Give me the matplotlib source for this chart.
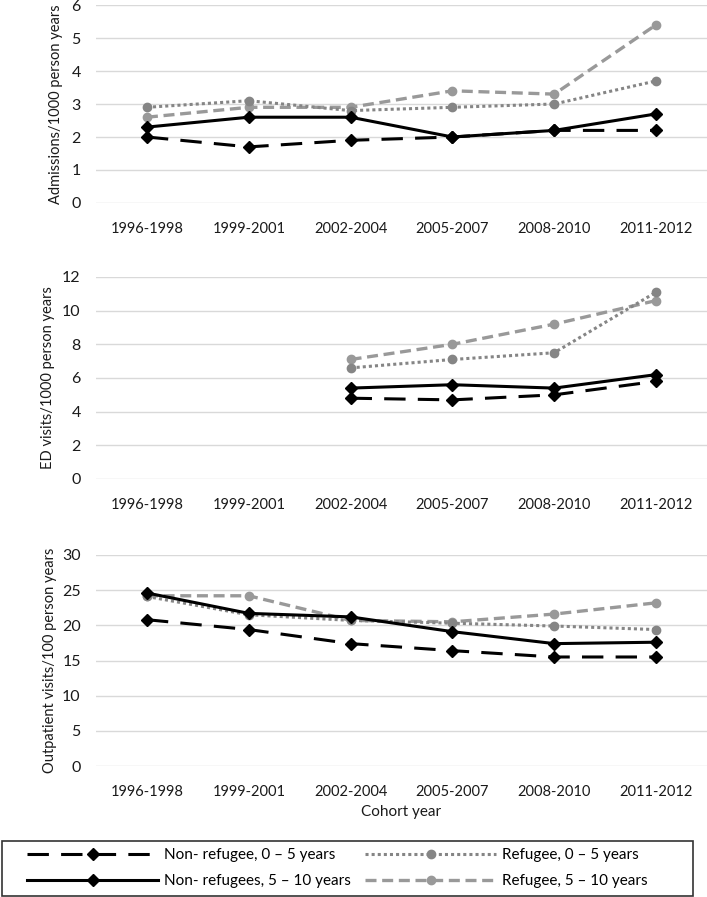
import numpy as np
import matplotlib
matplotlib.use('Agg')
import matplotlib.pyplot as plt
import matplotlib.patches as patches

plt.rcParams['font.family'] = ['Lato', 'DejaVu Sans']
plt.rcParams['font.size'] = 11

# cohort categories
cohorts = ['1996-1998', '1999-2001', '2002-2004', '2005-2007', '2008-2010', '2011-2012']

# Admissions / 1000 person years
adm_nr_0_5 = [2.0, 1.7, 1.9, 2.0, 2.2, 2.2]
adm_nr_5_10 = [2.3, 2.6, 2.6, 2.0, 2.2, 2.7]
adm_r_0_5 = [2.9, 3.1, 2.8, 2.9, 3.0, 3.7]
adm_r_5_10 = [2.6, 2.9, 2.9, 3.4, 3.3, 5.4]

# ED visits / 1000 person years (no data before 2002)
ed_nr_0_5 = [np.nan, np.nan, 4.8, 4.7, 5.0, 5.8]
ed_nr_5_10 = [np.nan, np.nan, 5.4, 5.6, 5.4, 6.2]
ed_r_0_5 = [np.nan, np.nan, 6.6, 7.1, 7.5, 11.1]
ed_r_5_10 = [np.nan, np.nan, 7.1, 8.0, 9.2, 10.6]

# Outpatient visits / 100 person years
op_nr_0_5 = [20.8, 19.4, 17.4, 16.4, 15.5, 15.5]
op_nr_5_10 = [24.6, 21.7, 21.2, 19.1, 17.4, 17.6]
op_r_0_5 = [24.1, 21.5, 20.7, 20.3, 19.9, 19.4]
op_r_5_10 = [24.2, 24.2, 20.7, 20.5, 21.6, 23.2]

labels = ['Non- refugee, 0 \u2013 5 years', 'Non- refugees, 5 \u2013 10 years',
          'Refugee, 0 \u2013 5 years', 'Refugee, 5 \u2013 10 years']

styles = [
    dict(color='black', lw=2.2, ls=(0, (7, 4)), marker='D', ms=6.5),
    dict(color='black', lw=2.2, ls='-', marker='D', ms=6.5),
    dict(color='#858585', lw=2.2, ls=(0, (1, 1)), marker='o', ms=6),
    dict(color='#999999', lw=2.4, ls=(0, (3.3, 1.7)), marker='o', ms=6),
]

# series, y label, ymax, step, axes rect, ylabel x (axes coords)
panels = [
    ([adm_nr_0_5, adm_nr_5_10, adm_r_0_5, adm_r_5_10], 'Admissions/1000 person years',
     6, 1, [0.1358, 0.7737, 0.8642, 0.2207], -0.054),
    ([ed_nr_0_5, ed_nr_5_10, ed_r_0_5, ed_r_5_10], 'ED visits/1000 person years',
     12, 2, [0.1358, 0.466, 0.8642, 0.2252], -0.067),
    ([op_nr_0_5, op_nr_5_10, op_r_0_5, op_r_5_10], 'Outpatient visits/100 person years',
     30, 5, [0.1358, 0.146, 0.8642, 0.2353], -0.064),
]

fig = plt.figure(figsize=(7.07, 8.97), dpi=100)
x = np.arange(len(cohorts))
handles = {}
for series, ylab, ymax, step, pos, labx in panels:
    ax = fig.add_axes(pos)
    # refugee series first so the black lines sit on top
    for k in [3, 2, 1, 0]:
        st = styles[k]
        h, = ax.plot(x, series[k], color=st['color'], lw=st['lw'], ls=st['ls'],
                     marker=st['marker'], ms=st['ms'], clip_on=False, zorder=3 + (k < 2))
        handles.setdefault(k, h)
    ax.set_ylim(0, ymax)
    ax.set_yticks(np.arange(0, ymax + step, step))
    ax.set_xlim(-0.5, 5.5)
    ax.set_xticks(x)
    ax.set_xticklabels(cohorts)
    ax.grid(axis='y', color='#d9d9d9', lw=1)
    ax.set_axisbelow(True)
    for s in ax.spines.values():
        s.set_visible(False)
    ax.tick_params(axis='y', length=0, pad=11, colors='#1a1a1a', labelsize=11.5)
    ax.tick_params(axis='x', length=0, pad=14, colors='#1a1a1a', labelsize=10.5)
    ax.set_ylabel(ylab, fontsize=10.5, color='#1a1a1a')
    ax.yaxis.set_label_coords(labx, 0.5)
    last_ax = ax

last_ax.set_xlabel('Cohort year', fontsize=11, labelpad=4, color='#1a1a1a')

# legend: two columns placed by hand inside one box
leg_kw = dict(frameon=False, handlelength=8.6, handletextpad=0.4, borderpad=0,
              borderaxespad=0, labelspacing=0.8, fontsize=11, loc='upper left')
leg1 = fig.legend([handles[0], handles[1]], labels[:2],
                  bbox_to_anchor=(27 / 707, 1 - 848 / 897), **leg_kw)
leg2 = fig.legend([handles[2], handles[3]], labels[2:],
                  bbox_to_anchor=(365 / 707, 1 - 848 / 897), **leg_kw)
fig.add_artist(patches.Rectangle((2 / 707, 1 / 897), 691 / 707, 55 / 897,
                                 transform=fig.transFigure, fill=False,
                                 edgecolor='#333333', lw=1.2))

fig.savefig('out.png', dpi=100)
